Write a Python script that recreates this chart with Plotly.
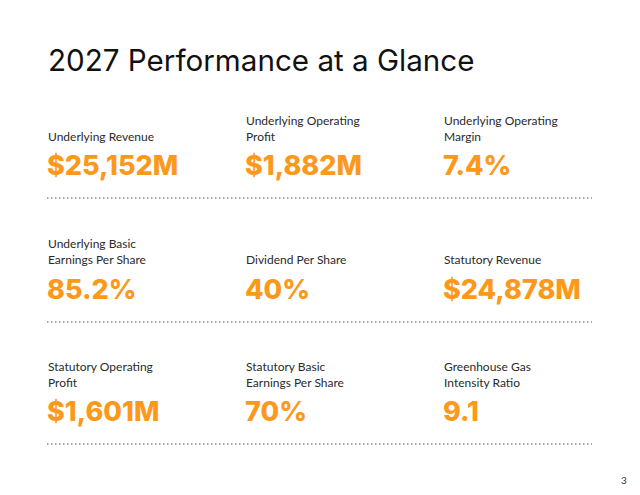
import plotly.graph_objects as go

title = "2027 Performance at a Glance"
labels = [
    "Underlying Revenue", "Underlying Operating<br>Profit", "Underlying Operating<br>Margin",
    "Underlying Basic<br>Earnings Per Share", "Dividend Per Share", "Statutory Revenue",
    "Statutory Operating<br>Profit", "Statutory Basic<br>Earnings Per Share", "Greenhouse Gas<br>Intensity Ratio",
]
values = ["$25,152M", "$1,882M", "7.4%", "85.2%", "40%", "$24,878M", "$1,601M", "70%", "9.1"]
page_number = "3"

W, H = 640, 495
col_x = [47, 245, 443]
label_bottom = [146, 269, 392]   # bottom of label block (px from top)
value_mid = [166, 289, 411]
rule_y = [198, 322, 444]

ORANGE = "#FC991B"

def px(x):
    return x / W

def py(y):
    return 1 - y / H

fig = go.Figure()
ann = []
ann.append(dict(text=title, x=px(46), y=py(60), xref="paper", yref="paper",
                xanchor="left", yanchor="middle", showarrow=False,
                font=dict(family="Inter", size=29.6, color="#111111")))
for i, (lab, val) in enumerate(zip(labels, values)):
    r, c = divmod(i, 3)
    ann.append(dict(text=lab, x=px(col_x[c] - 1), y=py(label_bottom[r]), xref="paper", yref="paper",
                    xanchor="left", yanchor="bottom", align="left", showarrow=False,
                    font=dict(family="Lato", size=12, color="#2a2a2a")))
    ann.append(dict(text=val, x=px(col_x[c] - 2), y=py(value_mid[r]), xref="paper", yref="paper",
                    xanchor="left", yanchor="middle", showarrow=False,
                    font=dict(family="Inter", size=27, color=ORANGE, weight=800)))
ann.append(dict(text=page_number, x=px(629), y=py(480), xref="paper", yref="paper",
                xanchor="right", yanchor="middle", showarrow=False,
                font=dict(family="Lato", size=10, color="#333333")))

shapes = [dict(type="line", xref="paper", yref="paper", x0=px(47), x1=px(592), y0=py(y), y1=py(y),
               line=dict(color="#8a8a8a", width=1.5, dash="1.5px,2.5px")) for y in rule_y]

fig.update_layout(width=W, height=H, margin=dict(l=0, r=0, t=0, b=0),
                  paper_bgcolor="white", plot_bgcolor="white",
                  xaxis=dict(visible=False), yaxis=dict(visible=False),
                  annotations=ann, shapes=shapes, showlegend=False)
fig.write_html("out.html", config={"displayModeBar": False},
               post_script="document.body.style.margin='0';document.body.style.overflow='hidden';")
